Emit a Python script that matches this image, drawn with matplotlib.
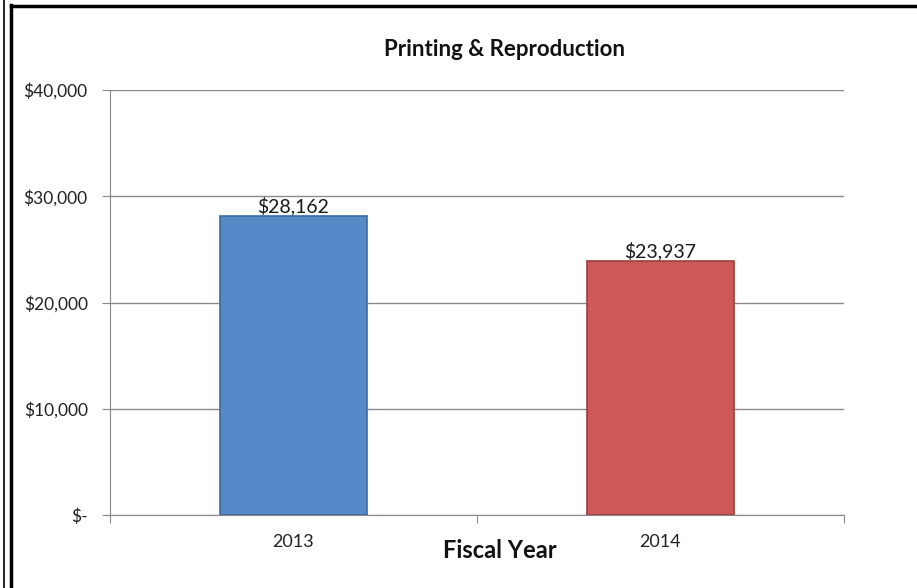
import matplotlib
import numpy as np

matplotlib.use("Agg")
import matplotlib.pyplot as plt
from matplotlib.lines import Line2D

years = ["2013", "2014"]
spend = [28162, 23937]
bar_colors = ["#5589C7", "#CC5957"]
edge_colors = ["#3C6A9E", "#9E3E3C"]
y_ticks = [0, 10000, 20000, 30000, 40000]
y_labels = ["$-", "$10,000", "$20,000", "$30,000", "$40,000"]

plt.rcParams["font.family"] = ["Lato", "DejaVu Sans"]

fig = plt.figure(figsize=(9.17, 5.88), dpi=100)
ax = fig.add_axes([110 / 917, 1 - 515 / 588, 734 / 917, 425 / 588])

x = np.arange(len(years))
bars = ax.bar(x, spend, width=0.4, color=bar_colors, edgecolor=edge_colors, linewidth=1.2, zorder=3)

for bar, val in zip(bars, spend):
    ax.text(
        bar.get_x() + bar.get_width() / 2,
        bar.get_height() + 20,
        f"${val:,}",
        ha="center",
        va="bottom",
        fontsize=14,
        color="#1a1a1a",
        zorder=4,
    )

ax.set_xlim(-0.5, 1.5)
ax.set_ylim(0, 40000)
ax.set_yticks(y_ticks)
ax.set_yticklabels(y_labels, fontsize=12.5, color="#222222")
ax.yaxis.grid(True, color="#8a8a8a", linewidth=1)
ax.set_axisbelow(True)

ax.set_xticks([-0.5, 0.5, 1.5])
ax.set_xticklabels([])
ax.set_xticks(x, minor=True)
ax.set_xticklabels(years, minor=True, fontsize=13, color="#222222")
ax.tick_params(axis="x", which="minor", length=0, pad=14)
ax.tick_params(axis="x", which="major", length=6, color="#8a8a8a")
ax.tick_params(axis="y", length=6, color="#8a8a8a", pad=10)

for side in ["top", "right"]:
    ax.spines[side].set_visible(False)
for side in ["left", "bottom"]:
    ax.spines[side].set_color("#8a8a8a")

fig.text(505 / 917, 1 - 49 / 588, "Printing & Reproduction", ha="center", va="center",
         fontsize=16, fontweight="bold", color="#111111")
fig.text(500 / 917, 1 - 550 / 588, "Fiscal Year", ha="center", va="center",
         fontsize=17, fontweight="bold", color="#111111")

# frame around the chart
fig.add_artist(Line2D([3.5 / 917, 3.5 / 917], [0, 1], color="black", linewidth=1.2))
fig.add_artist(Line2D([11 / 917, 11 / 917], [0, 1 - 5 / 588], color="black", linewidth=2.5))
fig.add_artist(Line2D([11 / 917, 1], [1 - 5.5 / 588, 1 - 5.5 / 588], color="black", linewidth=2.5))

plt.savefig("out.png", dpi=100)
plt.close()
